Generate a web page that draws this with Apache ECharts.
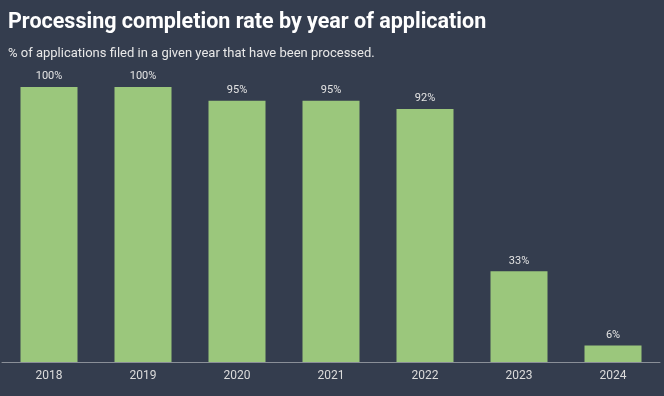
<!DOCTYPE html>
<html>
<head>
<meta charset="utf-8">
<script src="https://cdn.jsdelivr.net/npm/echarts@6/dist/echarts.min.js"></script>
<style>
	html, body { margin: 0; padding: 0; background: #343d4e; }
	#chart { width: 664px; height: 396px; }
</style>
</head>
<body>
<div id="chart"></div>
<script>
	// data
	var years = ['2018', '2019', '2020', '2021', '2022', '2023', '2024'];
	var rates = [100, 100, 95, 95, 92, 33, 6];

	var chart = echarts.init(document.getElementById('chart'));
	chart.setOption({
		backgroundColor: '#343d4e',
		animation: false,
		textStyle: { fontFamily: 'Roboto' },
		title: [{
			text: 'Processing completion rate by year of application',
			left: 8,
			top: 12,
			padding: 0,
			textStyle: { color: '#ffffff', fontSize: 21.5, fontWeight: 'bold', fontFamily: 'Roboto' }
		}, {
			text: '% of applications filed in a given year that have been processed.',
			left: 8,
			top: 47,
			padding: 0,
			textStyle: { color: '#e8e8e8', fontSize: 13, fontWeight: 'normal', fontFamily: 'Roboto' }
		}],
		grid: {
			left: 2,
			right: 4,
			top: 87,
			bottom: 34,
			containLabel: false
		},
		xAxis: {
			type: 'category',
			data: years,
			axisLine: { lineStyle: { color: '#8a8f98', width: 1 } },
			axisTick: { show: false },
			axisLabel: { color: '#dcdcdc', fontSize: 12, margin: 8 }
		},
		yAxis: {
			type: 'value',
			min: 0,
			max: 100,
			show: false,
			splitLine: { show: false }
		},
		series: [{
			type: 'bar',
			data: rates,
			barWidth: 57,
			itemStyle: { color: '#9bc77c' },
			label: {
				show: true,
				position: 'top',
				distance: 5,
				color: '#e4e4e4',
				fontSize: 11,
				formatter: '{c}%'
			}
		}]
	});
</script>
</body>
</html>
